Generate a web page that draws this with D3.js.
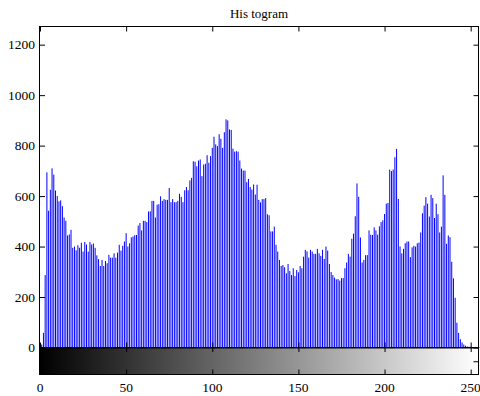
<!DOCTYPE html>
<html>
<head>
<meta charset="utf-8">
<script src="https://cdn.jsdelivr.net/npm/d3@7/dist/d3.min.js"></script>
<style>
  html, body { margin: 0; padding: 0; background: #fff; }
  svg { display: block; }
  text { font-family: "Liberation Serif", "Times New Roman", serif; fill: #000; }
</style>
</head>
<body>
<div id="chart"></div>
<script>
// Pixel counts for each grey level 0..255
const counts = [
  16, 12, 58, 287, 694, 542, 625, 710, 685, 622,
  600, 579, 583, 560, 515, 502, 444, 448, 466, 395,
  400, 385, 405, 395, 415, 380, 418, 408, 380, 418,
  408, 412, 395, 365, 350, 323, 347, 323, 343, 334,
  367, 356, 356, 373, 356, 376, 407, 384, 403, 420,
  453, 400, 413, 436, 440, 445, 446, 483, 493, 464,
  502, 502, 497, 539, 540, 581, 581, 515, 566, 568,
  599, 581, 588, 585, 585, 632, 576, 588, 576, 576,
  581, 609, 597, 576, 623, 636, 623, 662, 672, 738,
  736, 718, 741, 745, 679, 725, 728, 762, 732, 758,
  791, 835, 805, 798, 845, 827, 791, 853, 904, 900,
  864, 862, 788, 776, 778, 776, 741, 709, 701, 701,
  655, 668, 636, 626, 646, 606, 645, 585, 575, 588,
  588, 592, 528, 524, 460, 460, 479, 407, 380, 347,
  323, 327, 318, 294, 331, 303, 287, 314, 283, 307,
  298, 323, 314, 360, 387, 381, 356, 387, 380, 371,
  371, 391, 373, 363, 387, 351, 400, 384, 331, 299,
  287, 277, 270, 271, 265, 275, 275, 314, 337, 371,
  360, 431, 451, 520, 650, 597, 436, 337, 347, 366,
  366, 464, 447, 446, 476, 464, 447, 480, 497, 504,
  529, 570, 573, 705, 699, 705, 754, 787, 589, 400,
  373, 391, 413, 420, 420, 358, 397, 403, 400, 413,
  416, 456, 532, 562, 596, 570, 519, 605, 592, 513,
  570, 528, 456, 479, 682, 605, 411, 444, 437, 340,
  274, 197, 98, 58, 33, 20, 12, 7, 4, 3,
  3, 2, 2, 2, 2, 2
];
const xTicks = [0, 50, 100, 150, 200, 250];
const yTicks = [0, 200, 400, 600, 800, 1000, 1200];
const titleText = "His togram";

const W = 480, H = 396;
const plotBox = { left: 40, right: 479.3, top: 26.5, bottom: 347.5 };
const rampBox = { top: 348, bottom: 374.5 };
const frameLeft = 39.5, frameRight = 478.5;

const svg = d3.select("#chart").append("svg")
  .attr("width", W).attr("height", H);

const x = d3.scaleLinear().domain([0, 255]).range([plotBox.left, plotBox.right]);
const y = d3.scaleLinear().domain([0, 1272]).range([plotBox.bottom, plotBox.top]);

// Title
svg.append("text")
  .attr("x", (frameLeft + frameRight) / 2)
  .attr("y", 18)
  .attr("text-anchor", "middle")
  .style("font-size", "13px")
  .text(titleText);

// Histogram stems
svg.append("g")
  .selectAll("line")
  .data(counts)
  .join("line")
  .attr("x1", (d, i) => x(i))
  .attr("x2", (d, i) => x(i))
  .attr("y1", y(0))
  .attr("y2", d => y(d))
  .attr("stroke", "#0000ff")
  .attr("stroke-width", 1);

// Grey ramp under the histogram
const defs = svg.append("defs");
const grad = defs.append("linearGradient").attr("id", "greyRamp")
  .attr("x1", "0%").attr("x2", "100%").attr("y1", "0%").attr("y2", "0%");
grad.append("stop").attr("offset", "0%").attr("stop-color", "#000");
grad.append("stop").attr("offset", "100%").attr("stop-color", "#fff");

svg.append("rect")
  .attr("x", plotBox.left)
  .attr("y", rampBox.top)
  .attr("width", frameRight - plotBox.left)
  .attr("height", rampBox.bottom - rampBox.top)
  .attr("fill", "url(#greyRamp)");

// Frames
const frame = svg.append("g").attr("fill", "none").attr("stroke", "#000").attr("stroke-width", 1);
frame.append("rect")
  .attr("x", frameLeft).attr("y", plotBox.top)
  .attr("width", frameRight - frameLeft).attr("height", plotBox.bottom - plotBox.top);
frame.append("rect")
  .attr("x", frameLeft).attr("y", rampBox.top)
  .attr("width", frameRight - frameLeft).attr("height", rampBox.bottom - rampBox.top);

// Inward ticks on all four sides of the main axes
const tickLen = 5;
const axisTop = svg.append("g").attr("transform", `translate(0,${plotBox.top})`)
  .call(d3.axisBottom(x).tickValues(xTicks).tickSize(tickLen).tickFormat(""));
const axisBot = svg.append("g").attr("transform", `translate(0,${plotBox.bottom})`)
  .call(d3.axisTop(x).tickValues(xTicks).tickSize(tickLen).tickFormat(""));
const axisLeft = svg.append("g").attr("transform", `translate(${plotBox.left},0)`)
  .call(d3.axisRight(y).tickValues(yTicks).tickSize(tickLen).tickFormat(""));
const axisRight = svg.append("g").attr("transform", `translate(${frameRight},0)`)
  .call(d3.axisLeft(y).tickValues(yTicks).tickSize(tickLen).tickFormat(""));

// Ticks on the ramp
const rampTop = svg.append("g").attr("transform", `translate(0,${rampBox.top})`)
  .call(d3.axisBottom(x).tickValues(xTicks).tickSize(4).tickFormat(""));
const rampBot = svg.append("g").attr("transform", `translate(0,${rampBox.bottom})`)
  .call(d3.axisTop(x).tickValues(xTicks).tickSize(tickLen).tickFormat(""));
const rampY = d3.scaleLinear().domain([0, 1]).range([rampBox.bottom, rampBox.top]);
const rampRight = svg.append("g").attr("transform", `translate(${frameRight},0)`)
  .call(d3.axisLeft(rampY).tickValues([0.5]).tickSize(tickLen).tickFormat(""));

[axisTop, axisBot, axisLeft, axisRight, rampTop, rampBot, rampRight].forEach(g => {
  g.select(".domain").remove();
  g.selectAll(".tick line").attr("stroke", "#000");
});

// Tick labels
svg.append("g").selectAll("text")
  .data(yTicks)
  .join("text")
  .attr("x", 35)
  .attr("y", d => y(d))
  .attr("dy", "0.35em")
  .attr("text-anchor", "end")
  .style("font-size", "13.5px")
  .text(d => d);

svg.append("g").selectAll("text")
  .data(xTicks)
  .join("text")
  .attr("x", d => x(d))
  .attr("y", 391.5)
  .attr("text-anchor", "middle")
  .style("font-size", "13.5px")
  .text(d => d);
</script>
</body>
</html>
